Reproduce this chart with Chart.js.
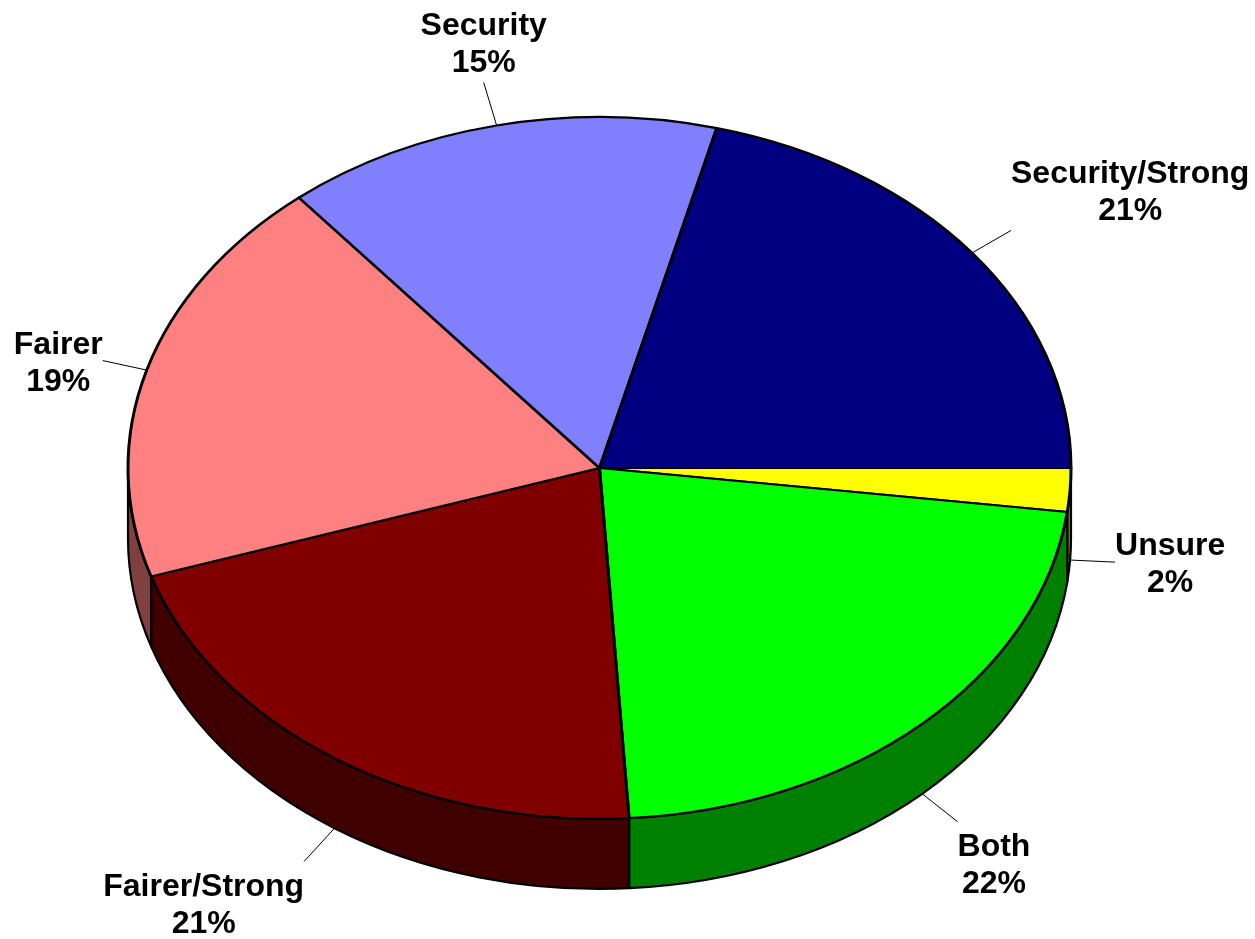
<!DOCTYPE html>
<html>
<head>
<meta charset="utf-8">
<script src="https://cdn.jsdelivr.net/npm/chart.js@4.4.0/dist/chart.umd.min.js"></script>
<style>
html, body { margin: 0; padding: 0; background: #fff; }
#wrap { width: 1255px; height: 939px; }
</style>
</head>
<body>
<div id="wrap"><canvas id="myChart" width="1255" height="939"></canvas></div>
<script>
// slices, clockwise from 3 o'clock
var categories = ["Unsure", "Both", "Fairer/Strong", "Fairer", "Security", "Security/Strong"];
var shares = [2, 22, 21, 19, 15, 21];
var shareLabels = ["2%", "22%", "21%", "19%", "15%", "21%"];

var topColors = ['#FFFF00', '#00FF00', '#800000', '#FF8080', '#8080FF', '#000080'];
var sideColors = ['#808000', '#008000', '#400000', '#804040', '#404080', '#000040'];

var depth = 70;       // height of the pie wall
var leaderLen = 45;   // leader line length
var labelFont = 'bold 32px "Liberation Sans", Arial, sans-serif';
var lineH = 37;

function geom(chart) {
    var meta = chart.getDatasetMeta(0);
    var a = meta.data[0];
    return { meta: meta, cx: a.x, cy: a.y, r: a.outerRadius, rx: chart.chartArea.width / 2, ry: a.outerRadius };
}

var pie3d = {
    id: 'pie3d',
    beforeDatasetsDraw: function(chart) {
        var g = geom(chart), c = chart.ctx;
        c.save();
        c.lineWidth = 2.2;
        c.strokeStyle = '#000';
        c.lineJoin = 'round';
        // front walls (lower half of the ellipse)
        g.meta.data.forEach(function(arc, i) {
            var a1 = Math.max(arc.startAngle, 0), a2 = Math.min(arc.endAngle, Math.PI);
            if (a2 <= a1) return;
            c.beginPath();
            c.ellipse(g.cx, g.cy, g.rx, g.ry, 0, a1, a2, false);
            c.ellipse(g.cx, g.cy + depth, g.rx, g.ry, 0, a2, a1, true);
            c.closePath();
            c.fillStyle = sideColors[i];
            c.fill();
            c.stroke();
        });
        c.restore();
        // squash the circle into the top ellipse
        c.save();
        c.translate(g.cx, g.cy);
        c.scale(g.rx / g.r, 1);
        c.translate(-g.cx, -g.cy);
    },
    afterDatasetsDraw: function(chart) {
        var c = chart.ctx;
        c.restore();
        var g = geom(chart);
        c.save();
        c.font = labelFont;
        c.fillStyle = '#000';
        c.strokeStyle = '#000';
        c.lineWidth = 1;
        c.textAlign = 'center';
        c.textBaseline = 'middle';
        g.meta.data.forEach(function(arc, i) {
            var mid = (arc.startAngle + arc.endAngle) / 2;
            var cs = Math.cos(mid), sn = Math.sin(mid);
            var px = g.cx + g.rx * cs;
            var py = g.cy + g.ry * sn + (sn > 0 ? depth : 0);
            var dx = g.rx * cs, dy = g.ry * sn, len = Math.sqrt(dx * dx + dy * dy);
            dx /= len; dy /= len;
            var ex = px + dx * leaderLen, ey = py + dy * leaderLen;
            c.beginPath();
            c.moveTo(px, py);
            c.lineTo(ex, ey);
            c.stroke();

            var w = Math.max(c.measureText(categories[i]).width, c.measureText(shareLabels[i]).width);
            var h = lineH * 2;
            var bx = dx > 0.3 ? ex + w / 2 : (dx < -0.3 ? ex - w / 2 : ex);
            var by = dy < -0.3 ? ey - h / 2 - 1 : (dy > 0.3 ? ey + h / 2 + 7 : ey + 3);
            c.fillText(categories[i], bx, by - lineH / 2);
            c.fillText(shareLabels[i], bx, by + lineH / 2);
        });
        c.restore();
    }
};

var ctx = document.getElementById("myChart").getContext('2d');
var myChart = new Chart(ctx, {
    type: 'pie',
    data: {
        labels: categories,
        datasets: [{
            data: shares,
            backgroundColor: topColors,
            borderColor: '#000',
            borderWidth: 2.2,
            borderJoinStyle: 'round',
            clip: false
        }]
    },
    options: {
        responsive: false,
        animation: false,
        rotation: 90,
        layout: { padding: { left: 128, right: 184, top: 116, bottom: 119 } },
        plugins: {
            legend: { display: false },
            tooltip: { enabled: false }
        }
    },
    plugins: [pie3d]
});
</script>
</body>
</html>
